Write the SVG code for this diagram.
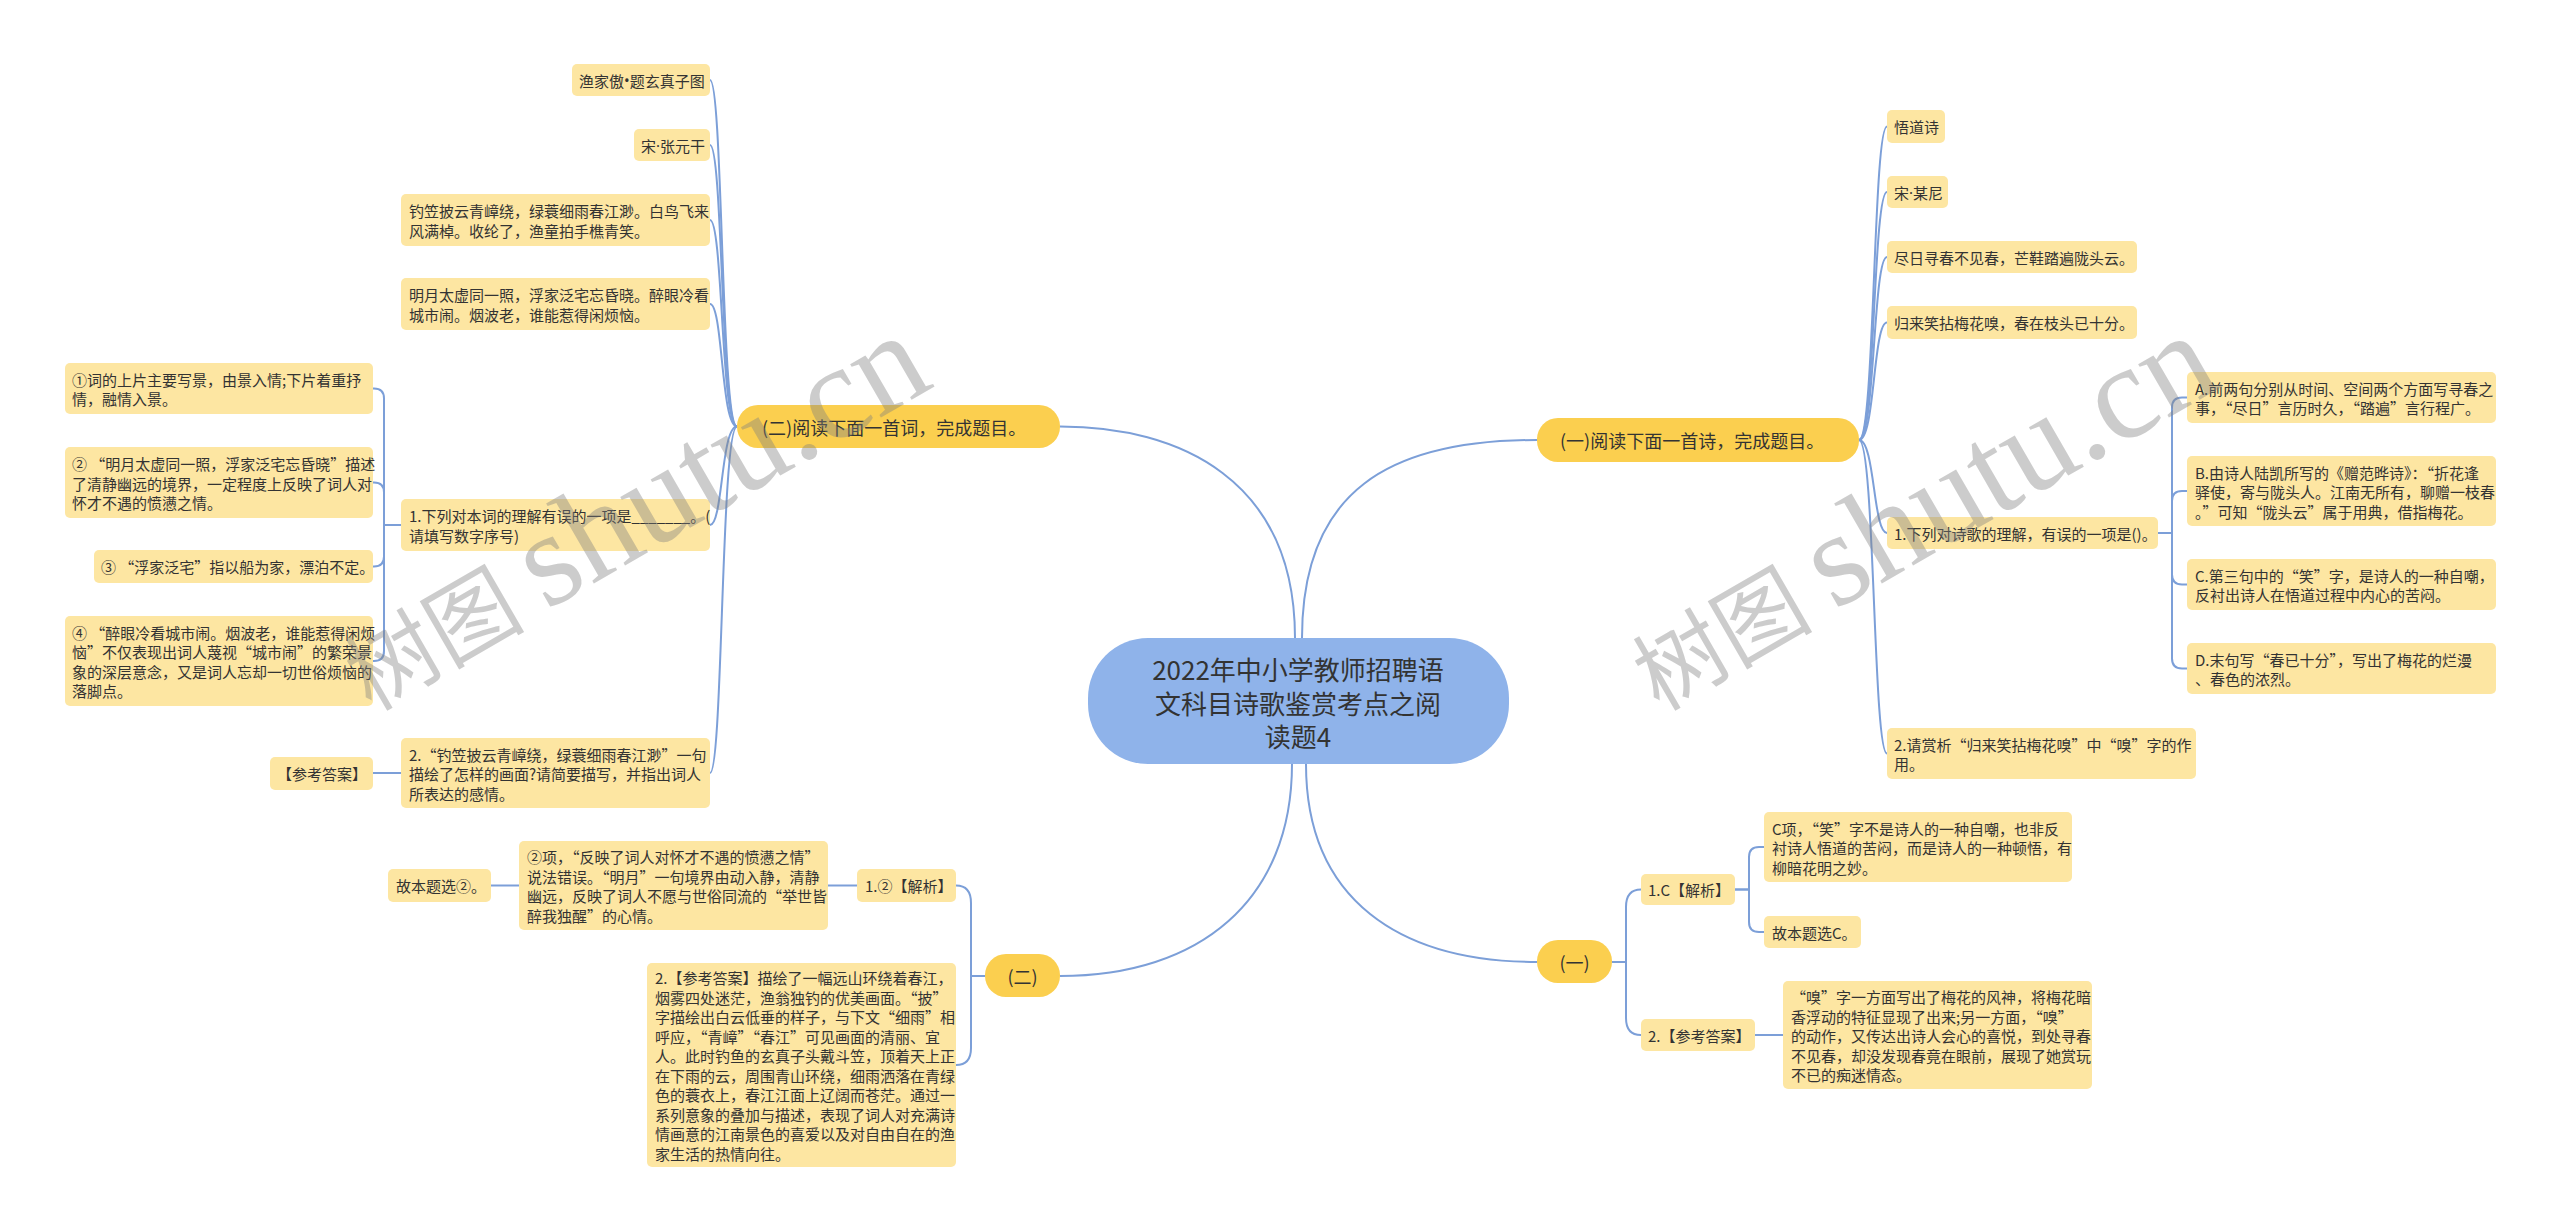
<svg xmlns="http://www.w3.org/2000/svg" width="2560" height="1231" viewBox="0 0 2560 1231">
<style>
.leaf{fill:#fde6a2}
.br{fill:#fbcf4f}
.ct{fill:#8fb3ea}
.t{font-family:"Noto Sans CJK SC","Noto Sans",sans-serif;font-size:15px;fill:#333;dominant-baseline:central}
.tb{font-size:18px}
.tc{font-size:26px;text-anchor:middle}
.lat{font-family:"Noto Sans","Liberation Sans",sans-serif}
.ln{fill:none;stroke:#7c9fd8;stroke-width:2}
.wm{font-family:"Liberation Serif","Noto Sans CJK SC",serif;fill:#808080;fill-opacity:0.4}
</style>
<rect width="2560" height="1231" fill="#ffffff"/>
<g id="connectors">
<path class="ln" d="M1060,426.5 C1180,426.5 1295,480 1295,638"/>
<path class="ln" d="M1537,440 C1390,440 1302,490 1302,638"/>
<path class="ln" d="M1060,976 C1200,976 1292,900 1292,764"/>
<path class="ln" d="M1537,962 C1400,962 1306,900 1306,764"/>
<path class="ln" d="M737,426.5 C721,426.5 723,80 710,80"/>
<path class="ln" d="M737,426.5 C721,426.5 723,145 710,145"/>
<path class="ln" d="M737,426.5 C721,426.5 723,220 710,220"/>
<path class="ln" d="M737,426.5 C721,426.5 723,304 710,304"/>
<path class="ln" d="M737,426.5 C721,426.5 723,525 710,525"/>
<path class="ln" d="M737,426.5 C721,426.5 723,773 710,773"/>
<path class="ln" d="M1859,440 C1875,440 1873,126.5 1887,126.5"/>
<path class="ln" d="M1859,440 C1875,440 1873,192 1887,192"/>
<path class="ln" d="M1859,440 C1875,440 1873,257 1887,257"/>
<path class="ln" d="M1859,440 C1875,440 1873,322.5 1887,322.5"/>
<path class="ln" d="M1859,440 C1875,440 1873,533 1887,533"/>
<path class="ln" d="M1859,440 C1875,440 1873,753.5 1887,753.5"/>
<path class="ln" d="M401,525 H384 V398.5 Q384,388.5 374,388.5 H373"/>
<path class="ln" d="M401,525 H384 V492.5 Q384,482.5 374,482.5 H373"/>
<path class="ln" d="M401,525 H384 V556.5 Q384,566.5 374,566.5 H373"/>
<path class="ln" d="M401,525 H384 V651 Q384,661 374,661 H373"/>
<path class="ln" d="M401,773 H373"/>
<path class="ln" d="M2158,533 H2172 V407.5 Q2172,397.5 2182,397.5 H2187"/>
<path class="ln" d="M2158,533 H2172 V501 Q2172,491 2182,491 H2187"/>
<path class="ln" d="M2158,533 H2172 V574.5 Q2172,584.5 2182,584.5 H2187"/>
<path class="ln" d="M2158,533 H2172 V658.5 Q2172,668.5 2182,668.5 H2187"/>
<path class="ln" d="M985,976 H971 V903 Q971,885.5 956,885.5"/>
<path class="ln" d="M985,976 H971 V1048 Q971,1065 956,1065"/>
<path class="ln" d="M857,885.5 H828"/>
<path class="ln" d="M519,885.5 H491"/>
<path class="ln" d="M1612,962 H1626 V907 Q1626,889.5 1641,889.5"/>
<path class="ln" d="M1612,962 H1626 V1018 Q1626,1035 1641,1035"/>
<path class="ln" d="M1735,889.5 H1749 V857 Q1749,847 1759,847 H1764"/>
<path class="ln" d="M1735,889.5 H1749 V922 Q1749,932 1759,932 H1764"/>
<path class="ln" d="M1755,1035 H1783"/>
</g>
<g id="center">
<rect class="ct" x="1088" y="638" width="421" height="126" rx="60"/>
<text class="t tc"><tspan x="1298" y="668">2022年中小学教师招聘语</tspan><tspan x="1298" y="702">文科目诗歌鉴赏考点之阅</tspan><tspan x="1298" y="735">读题4</tspan></text>
</g>
<g id="b2">
<rect class="br" x="737" y="405" width="323" height="43" rx="21"/>
<text class="t tb" x="762" y="426.5">(二)阅读下面一首词，完成题目。</text>
</g>
<g id="b1">
<rect class="br" x="1537" y="418" width="322" height="44" rx="21"/>
<text class="t tb" x="1560" y="440">(一)阅读下面一首诗，完成题目。</text>
</g>
<g id="b2b">
<rect class="br" x="985" y="954" width="75" height="43" rx="21"/>
<text class="t tb" x="1022.5" y="975.5" text-anchor="middle">(二)</text>
</g>
<g id="b1b">
<rect class="br" x="1537" y="940" width="75" height="43" rx="21"/>
<text class="t tb" x="1574.5" y="961.5" text-anchor="middle">(一)</text>
</g>
<g id="l1">
<rect class="leaf" x="572" y="64" width="138" height="32" rx="5"/>
<text class="t" x="579" y="80">渔家傲<tspan class="lat">•</tspan>题玄真子图</text>
</g>
<g id="l2">
<rect class="leaf" x="634" y="129" width="76" height="32" rx="5"/>
<text class="t" x="641" y="145">宋<tspan class="lat">·</tspan>张元干</text>
</g>
<g id="l3">
<rect class="leaf" x="401" y="194" width="309" height="52" rx="5"/>
<text class="t"><tspan x="409" y="210.25">钓笠披云青嶂绕，绿蓑细雨春江渺。白鸟飞来</tspan><tspan x="409" y="229.75">风满棹。收纶了，渔童拍手樵青笑。</tspan></text>
</g>
<g id="l4">
<rect class="leaf" x="401" y="278" width="309" height="52" rx="5"/>
<text class="t"><tspan x="409" y="294.25">明月太虚同一照，浮家泛宅忘昏晓。醉眼冷看</tspan><tspan x="409" y="313.75">城市闹。烟波老，谁能惹得闲烦恼。</tspan></text>
</g>
<g id="l5">
<rect class="leaf" x="401" y="499" width="309" height="52" rx="5"/>
<text class="t"><tspan x="409" y="515.25">1.下列对本词的理解有误的一项是_______。(</tspan><tspan x="409" y="534.75">请填写数字序号)</tspan></text>
</g>
<g id="l6">
<rect class="leaf" x="401" y="738" width="309" height="70" rx="5"/>
<text class="t"><tspan x="409" y="753.5">2.“钓笠披云青嶂绕，绿蓑细雨春江渺”一句</tspan><tspan x="409" y="773">描绘了怎样的画面?请简要描写，并指出词人</tspan><tspan x="409" y="792.5">所表达的感情。</tspan></text>
</g>
<g id="l5a">
<rect class="leaf" x="65" y="363" width="308" height="51" rx="5"/>
<text class="t"><tspan x="72" y="378.75">①词的上片主要写景，由景入情;下片着重抒</tspan><tspan x="72" y="398.25">情，融情入景。</tspan></text>
</g>
<g id="l5b">
<rect class="leaf" x="65" y="447" width="308" height="71" rx="5"/>
<text class="t"><tspan x="72" y="463">② “明月太虚同一照，浮家泛宅忘昏晓”描述</tspan><tspan x="72" y="482.5">了清静幽远的境界，一定程度上反映了词人对</tspan><tspan x="72" y="502">怀才不遇的愤懑之情。</tspan></text>
</g>
<g id="l5c">
<rect class="leaf" x="94" y="550" width="279" height="33" rx="5"/>
<text class="t" x="101" y="566.5">③ “浮家泛宅”指以船为家，漂泊不定。</text>
</g>
<g id="l5d">
<rect class="leaf" x="65" y="616" width="308" height="90" rx="5"/>
<text class="t"><tspan x="72" y="631.75">④ “醉眼冷看城市闹。烟波老，谁能惹得闲烦</tspan><tspan x="72" y="651.25">恼”不仅表现出词人蔑视“城市闹”的繁荣景</tspan><tspan x="72" y="670.75">象的深层意念，又是词人忘却一切世俗烦恼的</tspan><tspan x="72" y="690.25">落脚点。</tspan></text>
</g>
<g id="l6a">
<rect class="leaf" x="270" y="757" width="103" height="33" rx="5"/>
<text class="t" x="277" y="773.5">【参考答案】</text>
</g>
<g id="m1">
<rect class="leaf" x="857" y="869" width="99" height="33" rx="5"/>
<text class="t" x="865" y="885.5">1.②【解析】</text>
</g>
<g id="m1a">
<rect class="leaf" x="519" y="841" width="309" height="89" rx="5"/>
<text class="t"><tspan x="527" y="856.25">②项，“反映了词人对怀才不遇的愤懑之情”</tspan><tspan x="527" y="875.75">说法错误。“明月”一句境界由动入静，清静</tspan><tspan x="527" y="895.25">幽远，反映了词人不愿与世俗同流的“举世皆</tspan><tspan x="527" y="914.75">醉我独醒”的心情。</tspan></text>
</g>
<g id="m1b">
<rect class="leaf" x="388" y="869" width="103" height="33" rx="5"/>
<text class="t" x="396" y="885.5">故本题选②。</text>
</g>
<g id="m2">
<rect class="leaf" x="647" y="963" width="309" height="204" rx="5"/>
<text class="t"><tspan x="655" y="977.25">2.【参考答案】描绘了一幅远山环绕着春江，</tspan><tspan x="655" y="996.75">烟雾四处迷茫，渔翁独钓的优美画面。“披”</tspan><tspan x="655" y="1016.25">字描绘出白云低垂的样子，与下文“细雨”相</tspan><tspan x="655" y="1035.75">呼应，“青嶂”“春江”可见画面的清丽、宜</tspan><tspan x="655" y="1055.25">人。此时钓鱼的玄真子头戴斗笠，顶着天上正</tspan><tspan x="655" y="1074.75">在下雨的云，周围青山环绕，细雨洒落在青绿</tspan><tspan x="655" y="1094.25">色的蓑衣上，春江江面上辽阔而苍茫。通过一</tspan><tspan x="655" y="1113.75">系列意象的叠加与描述，表现了词人对充满诗</tspan><tspan x="655" y="1133.25">情画意的江南景色的喜爱以及对自由自在的渔</tspan><tspan x="655" y="1152.75">家生活的热情向往。</tspan></text>
</g>
<g id="r1">
<rect class="leaf" x="1887" y="110" width="58" height="33" rx="5"/>
<text class="t" x="1894" y="126.5">悟道诗</text>
</g>
<g id="r2">
<rect class="leaf" x="1887" y="176" width="61" height="32" rx="5"/>
<text class="t" x="1894" y="192">宋<tspan class="lat">·</tspan>某尼</text>
</g>
<g id="r3">
<rect class="leaf" x="1887" y="241" width="250" height="32" rx="5"/>
<text class="t" x="1894" y="257">尽日寻春不见春，芒鞋踏遍陇头云。</text>
</g>
<g id="r4">
<rect class="leaf" x="1887" y="306" width="250" height="33" rx="5"/>
<text class="t" x="1894" y="322.5">归来笑拈梅花嗅，春在枝头已十分。</text>
</g>
<g id="r5">
<rect class="leaf" x="1887" y="517" width="271" height="32" rx="5"/>
<text class="t" x="1894" y="533">1.下列对诗歌的理解，有误的一项是()。</text>
</g>
<g id="r6">
<rect class="leaf" x="1887" y="728" width="309" height="51" rx="5"/>
<text class="t"><tspan x="1894" y="743.75">2.请赏析“归来笑拈梅花嗅”中“嗅”字的作</tspan><tspan x="1894" y="763.25">用。</tspan></text>
</g>
<g id="r5a">
<rect class="leaf" x="2187" y="372" width="309" height="51" rx="5"/>
<text class="t"><tspan x="2195" y="387.75">A.前两句分别从时间、空间两个方面写寻春之</tspan><tspan x="2195" y="407.25">事，“尽日”言历时久，“踏遍”言行程广。</tspan></text>
</g>
<g id="r5b">
<rect class="leaf" x="2187" y="456" width="309" height="70" rx="5"/>
<text class="t"><tspan x="2195" y="471.5">B.由诗人陆凯所写的《赠范晔诗》：“折花逢</tspan><tspan x="2195" y="491">驿使，寄与陇头人。江南无所有，聊赠一枝春</tspan><tspan x="2195" y="510.5">。”可知“陇头云”属于用典，借指梅花。</tspan></text>
</g>
<g id="r5c">
<rect class="leaf" x="2187" y="559" width="309" height="51" rx="5"/>
<text class="t"><tspan x="2195" y="574.75">C.第三句中的“笑”字，是诗人的一种自嘲，</tspan><tspan x="2195" y="594.25">反衬出诗人在悟道过程中内心的苦闷。</tspan></text>
</g>
<g id="r5d">
<rect class="leaf" x="2187" y="643" width="309" height="51" rx="5"/>
<text class="t"><tspan x="2195" y="658.75">D.末句写“春已十分”，写出了梅花的烂漫</tspan><tspan x="2195" y="678.25">、春色的浓烈。</tspan></text>
</g>
<g id="n1">
<rect class="leaf" x="1641" y="874" width="94" height="31" rx="5"/>
<text class="t" x="1648" y="889.5">1.C【解析】</text>
</g>
<g id="n1a">
<rect class="leaf" x="1764" y="812" width="308" height="70" rx="5"/>
<text class="t"><tspan x="1772" y="827.5">C项，“笑”字不是诗人的一种自嘲，也非反</tspan><tspan x="1772" y="847">衬诗人悟道的苦闷，而是诗人的一种顿悟，有</tspan><tspan x="1772" y="866.5">柳暗花明之妙。</tspan></text>
</g>
<g id="n1b">
<rect class="leaf" x="1764" y="916" width="97" height="32" rx="5"/>
<text class="t" x="1772" y="932">故本题选C。</text>
</g>
<g id="n2">
<rect class="leaf" x="1641" y="1019" width="114" height="32" rx="5"/>
<text class="t" x="1648" y="1035">2.【参考答案】</text>
</g>
<g id="n2a">
<rect class="leaf" x="1783" y="981" width="309" height="108" rx="5"/>
<text class="t"><tspan x="1791" y="996">“嗅”字一方面写出了梅花的风神，将梅花暗</tspan><tspan x="1791" y="1015.5">香浮动的特征显现了出来;另一方面，“嗅”</tspan><tspan x="1791" y="1035">的动作，又传达出诗人会心的喜悦，到处寻春</tspan><tspan x="1791" y="1054.5">不见春，却没发现春竟在眼前，展现了她赏玩</tspan><tspan x="1791" y="1074">不已的痴迷情态。</tspan></text>
</g>
<g id="watermark">
<text class="wm" transform="translate(371,712) rotate(-30)"><tspan font-size="90">树图 </tspan><tspan font-size="134">shutu.cn</tspan></text>
<text class="wm" transform="translate(1659,712) rotate(-30)"><tspan font-size="90">树图 </tspan><tspan font-size="134">shutu.cn</tspan></text>
</g>
</svg>
